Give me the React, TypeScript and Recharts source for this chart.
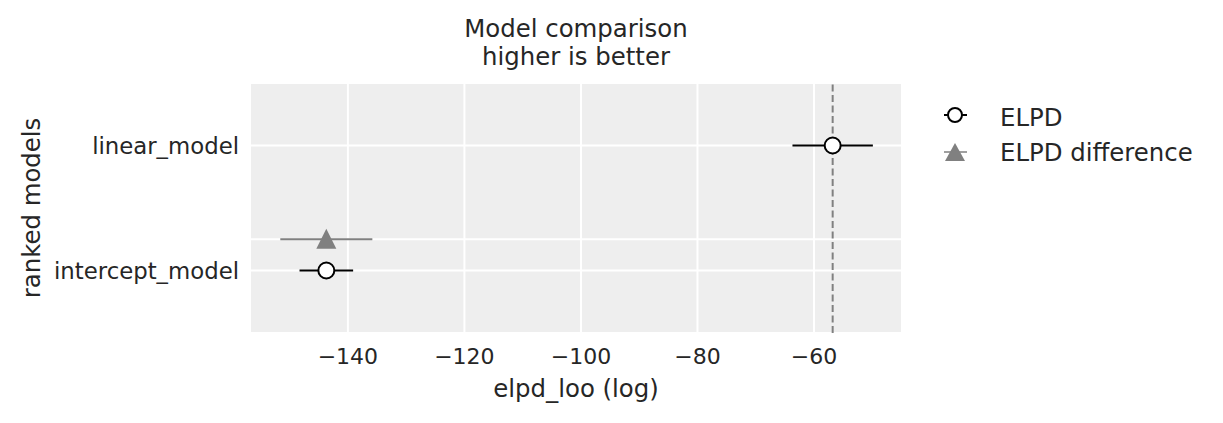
import { ComposedChart, Scatter, XAxis, YAxis, CartesianGrid, ReferenceLine, ErrorBar, Legend } from "recharts"

// models in rank order (best first)
const models = ["linear_model", "intercept_model"]
const elpdLoo = [-56.8, -143.7]
const elpdSe = [6.9, 4.6]
const diffSe = [0, 7.9]

const xTicks = [-140, -120, -100, -80, -60]
const xDomain = [-156.8, -44.9]

const TEXT = "#262626"
const FONT = "DejaVu Sans"
const DIFF_OFFSET = 0.25

const n = models.length
const rankPos = (i: number) => n - 1 - i

const elpdRows = models.map((m, i) => ({ name: m, x: elpdLoo[i], y: rankPos(i), err: elpdSe[i] }))
const diffRows = models.slice(1).map((m, j) => ({ name: m, x: elpdLoo[j + 1], y: rankPos(j + 1) + DIFF_OFFSET, err: diffSe[j + 1] }))

const yTicks = [...elpdRows.map((r) => r.y), ...diffRows.map((r) => r.y)].sort((a, b) => a - b)
const yLabel = (v: number) => {
  const row = elpdRows.find((r) => r.y === v)
  return row ? row.name : ""
}
const fmtX = (v: number) => String(v).replace("-", "\u2212")

const Circle = (props: any) => {
  const { cx, cy } = props
  if (cx == null || cy == null) return null
  return <circle cx={cx} cy={cy} r={8} fill="#ffffff" stroke="#000000" strokeWidth={2} />
}

const Triangle = (props: any) => {
  const { cx, cy } = props
  if (cx == null || cy == null) return null
  return <path d={`M${cx},${cy - 10.5}L${cx + 10},${cy + 9.5}L${cx - 10},${cy + 9.5}Z`} fill="#808080" />
}

const LegendBox = () => (
  <svg width={290} height={80}>
    <line x1={14} x2={37} y1={20} y2={20} stroke="#000000" strokeWidth={2} />
    <circle cx={25} cy={20} r={7} fill="#ffffff" stroke="#000000" strokeWidth={2} />
    <text x={70} y={31} fontSize={24.4} fill={TEXT} fontFamily={FONT}>ELPD</text>
    <line x1={14} x2={37} y1={57} y2={57} stroke="#808080" strokeWidth={1.5} />
    <path d="M25,48L35,66L15,66Z" fill="#808080" />
    <text x={70} y={66} fontSize={24.4} fill={TEXT} fontFamily={FONT}>ELPD difference</text>
  </svg>
)

export default function App() {
  return (
    <div style={{ position: "absolute", left: 0, top: 0, width: 1223, height: 423, background: "#ffffff", fontFamily: FONT }}>
      <div style={{ position: "absolute", left: 250, width: 652, top: 15, textAlign: "center", fontSize: 24.4, lineHeight: "28px", color: TEXT }}>
        <div>Model comparison</div>
        <div>higher is better</div>
      </div>
      <ComposedChart width={1223} height={423} margin={{ top: 83, right: 321, left: 0, bottom: 0 }}>
        <CartesianGrid fill="#eeeeee" stroke="#ffffff" strokeWidth={2} />
        <XAxis
          type="number"
          dataKey="x"
          domain={xDomain}
          ticks={xTicks}
          tickFormatter={fmtX}
          allowDataOverflow
          axisLine={false}
          tickLine={false}
          tickSize={0}
          tickMargin={15}
          height={90}
          tick={{ fill: TEXT, fontSize: 22, fontFamily: FONT }}
          label={{ value: "elpd_loo (log)", position: "insideBottom", offset: 26, fill: TEXT, fontSize: 24.4, fontFamily: FONT }}
        />
        <YAxis
          type="number"
          dataKey="y"
          domain={[-0.5, n - 0.5]}
          ticks={yTicks}
          tickFormatter={yLabel}
          axisLine={false}
          tickLine={false}
          tickSize={0}
          tickMargin={11}
          width={250}
          tick={{ fill: TEXT, fontSize: 22.8, fontFamily: FONT }}
          label={{ value: "ranked models", angle: -90, position: "insideLeft", offset: 31, textAnchor: "middle", fill: TEXT, fontSize: 24.4, fontFamily: FONT }}
        />
        <ReferenceLine x={elpdLoo[0]} stroke="#808080" strokeWidth={2} strokeDasharray="7 3.5" />
        <Scatter name="ELPD difference" data={diffRows} shape={<Triangle />} isAnimationActive={false}>
          <ErrorBar dataKey="err" direction="x" width={0} stroke="#808080" strokeWidth={2} isAnimationActive={false} />
        </Scatter>
        <Scatter name="ELPD" data={elpdRows} shape={<Circle />} isAnimationActive={false}>
          <ErrorBar dataKey="err" direction="x" width={0} stroke="#000000" strokeWidth={2} isAnimationActive={false} />
        </Scatter>
        <Legend
          layout="horizontal"
          verticalAlign="middle"
          align="center"
          content={() => <LegendBox />}
          wrapperStyle={{ left: 930, top: 95, width: 290, height: 80 }}
        />
      </ComposedChart>
    </div>
  )
}
